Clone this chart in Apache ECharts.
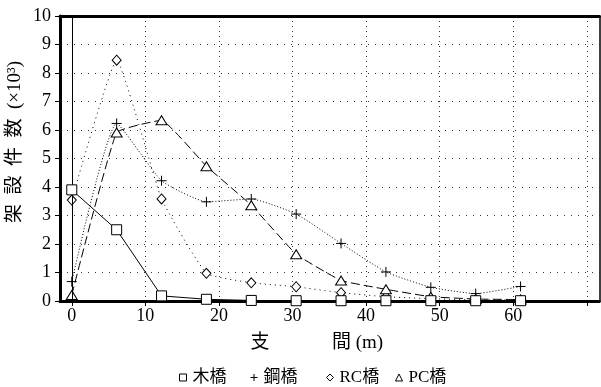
<!DOCTYPE html>
<html><head><meta charset="utf-8">
<script src="https://cdn.jsdelivr.net/npm/echarts@6.0.0/dist/echarts.min.js"></script>
<style>html,body{margin:0;padding:0;background:#fff}#c{width:601px;height:387px}</style>
</head><body><div id="c"></div>
<script>
// span (m)
const spans = [0, 6.1, 12.2, 18.3, 24.4, 30.5, 36.6, 42.7, 48.8, 54.9, 61.0];
// number of bridges (x10^3)
const woodBridge  = [3.9, 2.5, 0.18, 0.06, 0.02, 0.01, 0.01, 0.01, 0.01, 0.01, 0.01];
const steelBridge = [0.68, 6.23, 4.22, 3.48, 3.58, 3.05, 2.02, 1.02, 0.48, 0.26, 0.51];
const rcBridge    = [3.54, 8.45, 3.58, 0.97, 0.64, 0.5, 0.29, 0.15, 0.08, 0.04, 0.03];
const pcBridge    = [0.21, 5.91, 6.34, 4.73, 3.36, 1.64, 0.72, 0.41, 0.15, 0.07, 0.05];
const xTickValues  = [0, 10, 20, 30, 40, 50, 60, 70];
const xLabelValues = [0, 10, 20, 30, 40, 50, 60];
const seriesNames = ['木橋', '鋼橋', 'RC橋', 'PC橋'];
const yTitle = '架  設  件  数  (×10³)';
const xTitle1 = '支';
const xTitle2 = '間 (m)';

const SERIF = "'Liberation Serif','Noto Sans CJK JP'";
const pair = arr => arr.map((v, i) => [spans[i], v]);
const plus = 'path://M5,0L5,10M0,5L10,5';
const itemSt = {color: '#fff', borderColor: '#000', borderWidth: 1};
const legendIcons = ['rect', plus, 'diamond', 'triangle'];
const legendLeft = [179, 250, 326, 395];

const legends = seriesNames.map((n, i) => ({
  left: legendLeft[i], top: 369, itemWidth: 7, itemHeight: 7, padding: 0,
  textStyle: {color: '#000', fontSize: 17, fontFamily: SERIF, padding: [0, 0, 0, 1]},
  data: [{name: n, icon: legendIcons[i], itemStyle: itemSt}]
}));

const chart = echarts.init(document.getElementById('c'), null, {renderer: 'canvas'});
chart.setOption({
  animation: false,
  backgroundColor: '#fff',
  grid: {left: 60, right: 1.7, top: 16, bottom: 86},
  xAxis: [{
    type: 'value', min: -1.6, max: 71.7,
    axisLine: {onZero: false, lineStyle: {color: '#000', width: 3}},
    axisTick: {show: true, customValues: xTickValues, length: 5, lineStyle: {color: '#000', width: 1}},
    axisLabel: {customValues: xLabelValues, color: '#000', fontSize: 18, fontFamily: SERIF, margin: 6},
    splitLine: {show: true, lineStyle: {color: '#333', width: 1, type: [1, 4]}}
  }, {
    type: 'value', position: 'top', min: -1.6, max: 71.7,
    axisLine: {onZero: false, lineStyle: {color: '#000', width: 3}},
    axisTick: {show: false}, axisLabel: {show: false}, splitLine: {show: false}
  }],
  yAxis: [{
    type: 'value', min: 0, max: 10, interval: 1,
    axisLine: {show: true, onZero: false, lineStyle: {color: '#000', width: 3}},
    axisTick: {show: true, length: 5, lineStyle: {color: '#000', width: 1}},
    axisLabel: {color: '#000', fontSize: 18, fontFamily: SERIF, margin: 9},
    splitLine: {show: true, lineStyle: {color: '#333', width: 1, type: [1, 6]}}
  }, {
    type: 'value', position: 'right', min: 0, max: 10, interval: 1,
    axisLine: {show: true, onZero: false, lineStyle: {color: '#000', width: 1.5}},
    axisTick: {show: false}, axisLabel: {show: false}, splitLine: {show: false}
  }],
  legend: legends,
  graphic: [
    {type: 'text', x: 15, y: 142, rotation: Math.PI / 2,
     style: {text: yTitle, fill: '#000', font: "19px " + SERIF, textAlign: 'center', textVerticalAlign: 'middle'}},
    {type: 'text', x: 260, y: 343,
     style: {text: xTitle1, fill: '#000', font: "19px " + SERIF, textAlign: 'center', textVerticalAlign: 'middle'}},
    {type: 'text', x: 332, y: 343,
     style: {text: xTitle2, fill: '#000', font: "19px " + SERIF, textAlign: 'left', textVerticalAlign: 'middle'}}
  ],
  series: [
    {name: seriesNames[0], type: 'line', data: pair(woodBridge), symbol: 'rect', symbolSize: 10,
     itemStyle: itemSt, lineStyle: {color: '#000', width: 1, type: 'solid'}, z: 5,
     markLine: {silent: true, symbol: 'none', label: {show: false},
       lineStyle: {color: '#000', width: 1, type: 'solid'}, data: [{xAxis: 0}]}},
    {name: seriesNames[1], type: 'line', data: pair(steelBridge), symbol: plus, symbolSize: 10,
     smooth: 0.15, itemStyle: itemSt, lineStyle: {color: '#000', width: 1, type: [1, 2]}, z: 4},
    {name: seriesNames[2], type: 'line', data: pair(rcBridge), symbol: 'diamond', symbolSize: [9, 10],
     smooth: 0.12, itemStyle: itemSt, lineStyle: {color: '#000', width: 1, type: [1, 4]}, z: 3},
    {name: seriesNames[3], type: 'line', data: pair(pcBridge), symbol: 'triangle', symbolSize: [11, 9],
     smooth: 0.1, itemStyle: itemSt, lineStyle: {color: '#000', width: 1, type: [9, 4]}, z: 4}
  ]
});
</script></body></html>
